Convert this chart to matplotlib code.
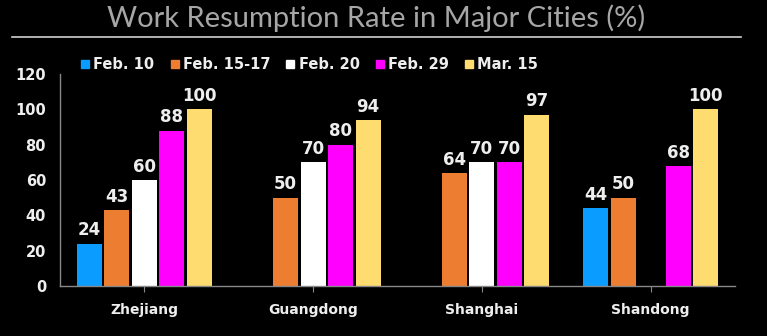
import matplotlib
matplotlib.use("Agg")
import matplotlib.pyplot as plt
import numpy as np
from matplotlib.lines import Line2D

cities = ["Zhejiang", "Guangdong", "Shanghai", "Shandong"]
dates = ["Feb. 10", "Feb. 15-17", "Feb. 20", "Feb. 29", "Mar. 15"]
colors = ["#0b9cff", "#ed7d31", "#ffffff", "#ff00ff", "#ffdc70"]
# resumption rate (%) per date, one entry per city; None = not reported
feb10 = [24, None, None, 44]
feb15_17 = [43, 50, 64, 50]
feb20 = [60, 70, 70, None]
feb29 = [88, 80, 70, 68]
mar15 = [100, 94, 97, 100]
series = [feb10, feb15_17, feb20, feb29, mar15]
yticks = [0, 20, 40, 60, 80, 100, 120]

fig = plt.figure(figsize=(7.67, 3.36), dpi=100, facecolor="black")
ax = fig.add_axes([0.0782, 0.1488, 0.880, 0.631], facecolor="black")

x = np.arange(len(cities))
step, width = 0.163, 0.148
for k, (vals, col) in enumerate(zip(series, colors)):
    off = (k - 2) * step
    for i, v in enumerate(vals):
        if v is None:
            continue
        ax.bar(x[i] + off, v, width=width, color=col)
        ax.annotate(f"{v}", (x[i] + off, v), xytext=(0, 6), textcoords="offset points",
                    ha="center", va="baseline", color="#eeeeee",
                    fontsize=12, fontweight="bold")

ax.set_xlim(-0.5, 3.5)
ax.set_ylim(0, 120)
ax.set_yticks(yticks)
ax.set_yticklabels([str(t) for t in yticks], color="#eeeeee",
                   fontsize=10.5, fontweight="bold")
ax.tick_params(axis="y", length=0, pad=10)
ax.set_xticks(x)
ax.set_xticklabels(cities, color="#eeeeee", fontsize=10, fontweight="bold")
ax.tick_params(axis="x", length=4, color="#888888", pad=8)
for side in ("top", "right"):
    ax.spines[side].set_visible(False)
for side in ("left", "bottom"):
    ax.spines[side].set_color("#888888")
    ax.spines[side].set_linewidth(1)

# legend along the top
handles = [Line2D([], [], marker="s", linestyle="none", markersize=6,
                  markerfacecolor=c, markeredgecolor=c) for c in colors]
leg = fig.legend(handles, dates, loc="upper left", bbox_to_anchor=(0.088, 0.87),
                 ncol=5, frameon=False, handlelength=0.6, handletextpad=0.25,
                 columnspacing=1.1, prop={"weight": "bold", "size": 10.5})
for t in leg.get_texts():
    t.set_color("#eeeeee")

fig.text(0.49, 0.945, "Work Resumption Rate in Major Cities (%)", ha="center",
         va="center", color="#a6a6a6", fontsize=21, family="Lato",
         fontweight="normal")
fig.add_artist(Line2D([0.016, 0.966], [0.89, 0.89], color="#d0d0d0",
                      linewidth=1.2, transform=fig.transFigure))

fig.savefig("out.png", dpi=100, facecolor="black")
